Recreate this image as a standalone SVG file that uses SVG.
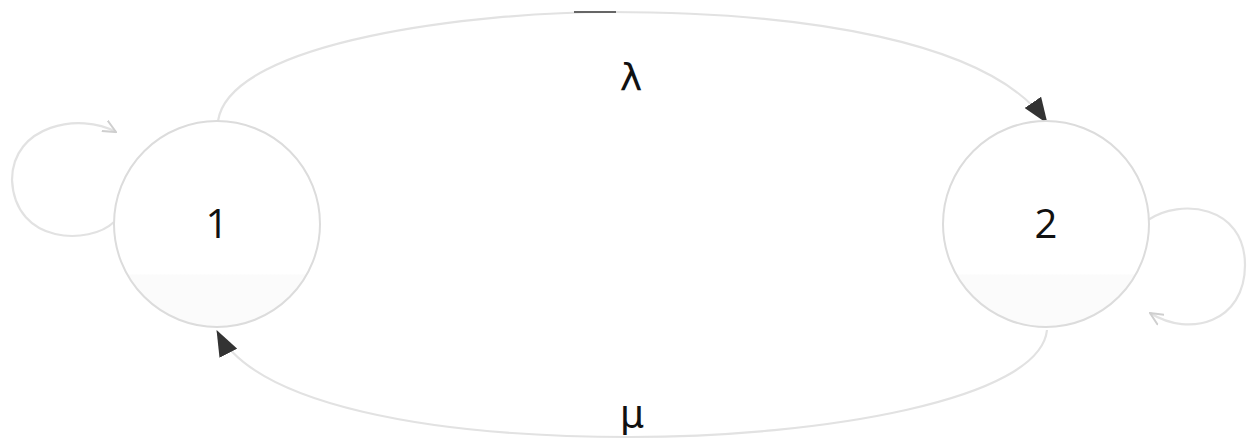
<svg xmlns="http://www.w3.org/2000/svg" width="1247" height="439" viewBox="0 0 1247 439">
<defs>
<style>
.node{stroke:#dcdcdc;stroke-width:2;fill:url(#g)}
.edge{fill:none;stroke:#e2e2e2;stroke-width:2.2}
.lbl{font-family:"Open Sans","Liberation Sans",sans-serif;font-size:40px;fill:#111;text-anchor:middle}
.greek{font-family:"DejaVu Sans","Noto Sans",sans-serif;font-size:38px;fill:#111;text-anchor:middle}
</style>
<linearGradient id="g" x1="0" y1="0" x2="0" y2="1">
<stop offset="0" stop-color="#ffffff"/>
<stop offset="0.74" stop-color="#ffffff"/>
<stop offset="0.75" stop-color="#fbfbfb"/>
<stop offset="1" stop-color="#fbfbfb"/>
</linearGradient>
<marker id="tri" viewBox="0 0 26 20" refX="25" refY="10" markerWidth="26" markerHeight="20" markerUnits="userSpaceOnUse" orient="auto">
<path d="M0,0 L26,10 L0,20 Z" fill="#333"/>
</marker>
<marker id="open" viewBox="0 0 14 14" refX="13" refY="7" markerWidth="14" markerHeight="14" markerUnits="userSpaceOnUse" orient="auto">
<path d="M0,1 L13,7 L0,13" fill="none" stroke="#cfcfcf" stroke-width="2"/>
</marker>
</defs>
<rect width="1247" height="439" fill="#fff"/>
<g id="connectors">
<path class="edge" d="M218 121 C230 40 480 12 610 12 C800 12 990 40 1047 123" marker-end="url(#tri)"/>
<path d="M574 12 L616 12" stroke="#666" stroke-width="2" fill="none"/>
<path class="edge" d="M1047 330 C1040 400 820 437 630 437 C430 437 255 405 217 331" marker-end="url(#tri)"/>
<path class="edge" d="M114 222 C90 245 15 245 12 180 C12 125 80 112 116 132" marker-end="url(#open)"/>
<path class="edge" d="M1148 220 C1180 198 1245 205 1245 265 C1245 322 1190 338 1150 313" marker-end="url(#open)"/>
</g>
<g id="node1">
<circle class="node" cx="217" cy="224" r="103"/>
<text class="lbl" x="217" y="238">1</text>
</g>
<g id="node2">
<circle class="node" cx="1046" cy="224" r="103"/>
<text class="lbl" x="1046" y="238">2</text>
</g>
<g id="labels">
<text class="greek" x="631" y="90">λ</text>
<text class="greek" x="632" y="427">μ</text>
</g>
</svg>
